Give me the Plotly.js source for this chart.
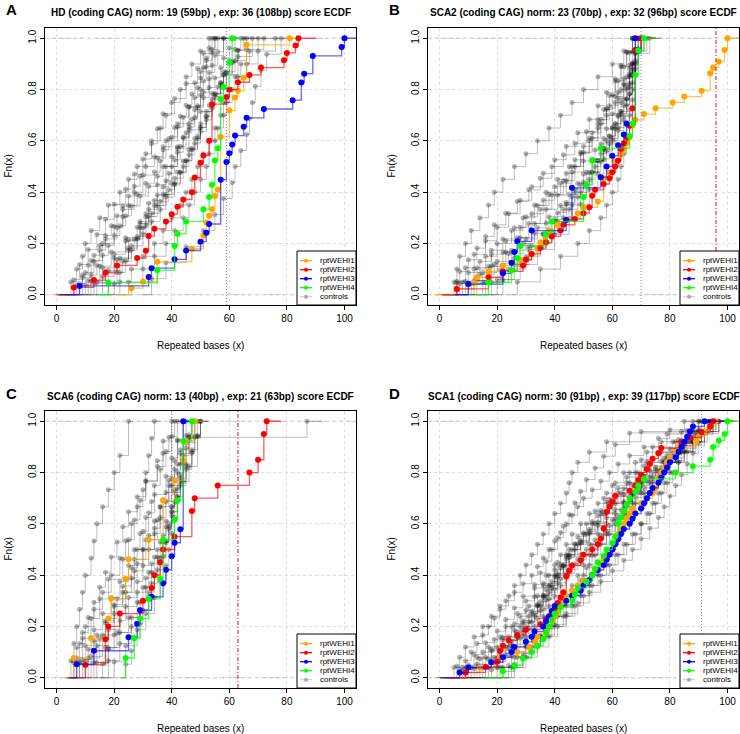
<!DOCTYPE html>
<html>
<head>
<meta charset="utf-8">
<script src="https://cdn.plot.ly/plotly-3.0.1.min.js"></script>
<style>
  html, body { margin: 0; padding: 0; background: #fff; }
  #ecdf { width: 740px; height: 734px; }
</style>
</head>
<body>
<div id="ecdf"></div>
<script>
// ECDF panels: 4 repeat loci, 4 samples + controls each

var panelLetters = ['A', 'B', 'C', 'D'];
var panelTitles = [
  'HD (coding CAG) norm: 19 (59bp) , exp: 36 (108bp) score ECDF',
  'SCA2 (coding CAG) norm: 23 (70bp) , exp: 32 (96bp) score ECDF',
  'SCA6 (coding CAG) norm: 13 (40bp) , exp: 21 (63bp) score ECDF',
  'SCA1 (coding CAG) norm: 30 (91bp) , exp: 39 (117bp) score ECDF'
];
var normBp = [59, 70, 40, 91];
var expBp = [108, 96, 63, 117];

var seriesNames = ['rptWEHI1', 'rptWEHI2', 'rptWEHI3', 'rptWEHI4'];
var seriesColors = ['#FFA500', '#FF0000', '#0000FF', '#00FF00'];
var seriesLines = ['rgba(255,165,0,0.65)', 'rgba(255,0,0,0.65)', 'rgba(0,0,255,0.6)', 'rgba(0,255,0,0.7)'];

var xTicks = [0, 20, 40, 60, 80, 100];
var yTicks = [0, 0.2, 0.4, 0.6, 0.8, 1.0];

// A - HD
var hdWEHI1 = [26,30,35,35,35,47,47,51,51,52,52,53,54,55,55,56,57,57,57,57,57,57,57,57,60,60,60,60,62,62,63,65,65,66,66,66,66,66,81];
var hdWEHI2 = [6,13,17,21,28,31,32,32,34,38,40,42,44,47,48,48,50,50,51,53,53,54,54,54,54,54,59,60,63,67,71,79,80,83,84];
var hdWEHI3 = [8,32,33,41,45,50,52,53,57,57,57,57,57,59,59,60,61,62,65,66,72,82,85,85,86,89,89,99,100];
var hdWEHI4 = [18,35,41,41,42,45,51,53,54,55,55,56,57,57,57,57,58,60,60,61,61];
var hdControls = [
  [5,7,9,10,12,15,18,22,25,28,31,33,36,38,40,43,45,47,50,53],
  [6,8,11,14,17,20,24,27,30,33,35,37,41,45,49,51,54],
  [8,10,13,15,17,21,23,25,28,31,34,36,37,39,41,43,45,47,48,50,52,54,56],
  [9,12,16,20,23,27,30,35,38,42,46,50,53,55,58],
  [10,12,14,16,18,20,22,24,26,29,32,35,37,40,42,44,46,48,49,51,53,55,57,58,60,62],
  [12,16,20,24,28,31,34,37,39,41,43,45,47,49,51,53,54,56,58],
  [14,18,22,26,30,33,36,38,41,43,45,47,49,50,52,54,56,58,61,63,65],
  [16,20,25,29,32,35,38,42,46,50,54,58,63,68],
  [18,21,23,25,27,29,31,34,37,40,42,44,46,48,50,52,53,55,57,59,62,66,72],
  [22,26,30,34,37,40,43,45,47,49,51,53,55,57,58,60,63,66,70,76],
  [7,9,11,13,15,17,19,21,23,25,27,29,31,34,37,40,42,44,46,48,49,50,51,52,53,55],
  [33,38,45,51,55,58,61,62,64,66,67,68,69,71,73,78],
  [11,15,19,24,29,32,35,38,40,42,44,46,48,50,51,52,54,55],
  [20,22,24,26,28,30,32,35,38,41,43,45,47,49,50,52,54,55,57,58,60,62,64],
  [13,17,21,25,28,31,33,36,39,41,44,46,48,50,52,54,55,57,59,61,63,66],
  [25,30,34,38,41,44,46,48,50,52,53,55,56,58,59,61,62,64,67,70]
];

// B - SCA2
var sca2WEHI1 = [6,12,13,17,22,28,32,34,35,37,38,41,45,48,50,55,57,57,57,57,59,61,61,63,64,65,66,67,67,68,71,75,81,85,91,94,94,94,95,97,99,99,100,100];
var sca2WEHI2 = [6,17,17,22,29,30,32,35,37,39,42,43,47,50,52,53,53,54,57,59,60,61,62,63,63,64,65,66,66,67,67,67,68,68,68,68,68,68,68,68,68,68,70,70];
var sca2WEHI3 = [10,22,25,26,27,32,44,46,46,46,56,58,60,62,64,65,68,68,68,68,68,68,68,68];
var sca2WEHI4 = [17,25,27,28,37,39,50,50,51,53,53,56,66,67,68,68,68,68,69,69,71];
var sca2Controls = [
  [5,6,7,9,11,14,17,19,22,26,30,34,38,42,46,50,55,60,64,67],
  [6,7,10,13,16,19,23,27,31,35,39,43,47,51,55,58,61,64,66,68,68,69],
  [6,9,12,16,20,24,28,32,36,40,44,48,52,55,58,61,63,65,67],
  [7,10,14,18,22,26,30,34,38,42,46,50,54,57,60,62,64,66,67,68,68,69,70],
  [8,12,16,20,25,29,33,37,41,45,49,52,55,58,61,63,65,67,68,70],
  [9,13,18,23,28,32,36,40,44,47,50,53,56,59,62,64,66,67,68],
  [11,15,20,25,30,34,38,42,45,48,51,54,57,60,62,64,65,66,67,67,68,68,70],
  [13,18,23,28,33,37,41,44,47,50,53,56,58,60,62,64,66,68],
  [15,21,26,31,36,40,43,46,49,52,55,57,59,61,63,65,66,67,68,69,69],
  [18,24,30,35,39,43,46,49,52,54,56,58,60,62,63,65,66,67,68,72],
  [22,28,34,40,45,49,52,55,57,59,61,63,65,66,67,68,73],
  [27,35,42,48,52,56,58,60,62,63,64,65,66,66,67,67,68,68,69,71],
  [10,14,19,24,29,33,37,41,44,47,50,53,56,58,60,62,64,66,67,68,68,68,69,69,70],
  [12,17,22,27,31,35,39,43,46,49,52,55,57,59,61,63,65,67],
  [16,22,27,32,37,41,45,48,51,53,55,57,59,61,63,64,65,66,67,68,69],
  [20,26,31,36,40,44,47,50,53,56,58,60,62,64,66,68,70]
];

// C - SCA6
var sca6WEHI1 = [6,12,18,19,24,25,32,37,37,41,44,45,48];
var sca6WEHI2 = [10,17,17,18,22,30,33,34,36,37,41,47,47,48,56,67,70,72,72,73];
var sca6WEHI3 = [7,13,25,28,29,33,37,38,40,41,43,44,44,44,44,44,44,44,44];
var sca6WEHI4 = [24,27,29,32,36,37,37,41,42,44,44,44,47];
var sca6Controls = [
  [5,6,7,8,9,10,12,13,14,16,18,20,22,25,25],
  [6,7,9,11,13,15,17,19,21,23,25,28,31,35,38,40,42],
  [7,9,12,15,18,23,25,27,29,31,35,37,40],
  [8,11,14,17,20,23,26,28,30,32,34,36,38,40,42,43,45,47],
  [9,13,17,20,23,26,28,30,32,34,38,40,42,44],
  [10,14,18,22,25,28,30,32,34,36,38,40,41,43,46,48],
  [12,16,20,24,27,30,34,36,39,43,45,48],
  [14,18,22,26,29,31,33,35,37,39,40,42,44,46,49,49,50],
  [16,18,20,22,24,28,31,33,35,37,38,40,41,43,45,47,49,50],
  [20,24,28,31,34,36,38,39,40,41,42,43,45,47,48,87],
  [6,8,10,13,16,19,22,24,26,28,30,31,32,33,34],
  [24,26,27,29,30,32,33,35,37,38,39,40,41,42,43,44,45,46,47],
  [8,10,13,16,19,22,25,27,29,31,33,34,36,37,39,41],
  [11,15,18,21,24,27,31,35,37,39,41,42,45],
  [13,17,21,25,28,30,32,34,36,38,40,42,43,45,47,48,49],
  [18,22,26,29,32,34,36,38,39,40,41,42,44,46,50]
];

// D - SCA1
var sca1WEHI1 = [9,14,19,21,27,31,33,34,37,38,39,40,41,42,43,44,46,48,50,53,54,56,57,58,60,61,62,62,63,64,65,66,67,70,72,74,75,76,76,77,78,79,80,82,83,89,90,92,94,96];
var sca1WEHI2 = [9,16,20,21,21,22,24,27,30,35,37,39,40,41,42,43,44,44,44,45,46,49,50,53,55,56,57,57,58,58,58,59,60,61,66,68,69,70,72,73,74,76,77,84,87,91,94,95];
var sca1WEHI3 = [7,10,18,22,25,26,30,32,33,36,37,38,39,40,44,46,49,50,52,53,55,57,58,59,60,61,62,63,64,66,67,68,70,71,72,73,74,76,77,78,79,80,82,83,84,85,86,87,88,92];
var sca1WEHI4 = [22,26,29,32,34,36,37,38,39,40,42,46,47,48,51,53,54,55,57,58,60,61,62,62,63,64,65,66,68,69,71,82,88,94,95,95,97,99,100,100];
var sca1Controls = [
  [5,7,9,12,15,18,21,24,26,28,30,32,34,36,38,40,42,44,45,46,48,52,58,70,85],
  [6,12,16,20,23,26,29,33,35,37,39,41,43,45,47,49,51,54,57,61,66,88],
  [7,9,11,13,15,17,19,21,23,26,29,32,34,36,38,40,42,44,46,48,50,53,56,59,62,66,71,76,80,90],
  [8,13,17,21,25,28,31,34,36,38,40,42,44,46,49,52,55,58,61,64,68,72,77,84,91],
  [10,15,19,23,27,30,33,37,41,45,48,51,54,57,60,66,70,74,79,92],
  [12,17,21,25,27,29,32,34,36,38,40,42,44,46,49,52,55,58,61,64,67,71,75,78,80,83,86,93],
  [14,19,23,27,30,33,35,37,39,41,43,45,48,51,54,57,60,63,66,69,73,77,82,88,94],
  [16,21,25,29,32,35,37,39,41,43,45,47,50,53,56,59,62,65,71,79,84,89,95],
  [18,20,23,25,27,29,31,33,34,36,37,39,41,43,45,47,49,52,55,58,61,64,67,70,73,75,77,81,85,88,90,96],
  [21,26,30,34,37,40,42,44,46,48,50,52,55,58,61,64,67,70,73,76,79,83,87,91,97],
  [24,29,33,37,40,43,47,49,51,53,55,58,61,64,67,70,73,79,85,92,97],
  [9,14,18,22,26,29,32,35,38,41,44,47,50,53,56,59,62,65,68,71,74,77,80,82,84,87,90],
  [11,16,20,24,28,31,34,36,38,40,42,44,47,50,53,56,59,62,65,68,72,76,81,87,93],
  [13,18,22,26,30,33,36,40,44,49,52,55,58,64,70,78,83,89,95],
  [15,20,24,28,31,34,36,38,40,42,45,48,51,54,57,60,63,66,69,72,76,80,85,88,90,94],
  [17,22,26,30,33,36,38,40,42,44,46,49,52,55,58,61,64,67,70,74,78,82,86,91,96],
  [26,30,34,38,41,44,47,50,53,56,59,62,65,68,70,72,74,76,78,80,83,86,89,92,95],
  [22,27,31,35,39,43,46,49,52,55,58,61,64,67,70,73,75,77,79,81,83,85,88,91,94],
  [25,29,32,35,38,41,44,46,48,50,52,54,56,59,62,65,68,71,74,77,80,84,88,93,97],
  [20,25,30,35,40,44,48,52,56,60,64,67,70,73,76,78,80,82,84,86,88,90,92,94]
];

var panelSeries = [
  [hdWEHI1, hdWEHI2, hdWEHI3, hdWEHI4],
  [sca2WEHI1, sca2WEHI2, sca2WEHI3, sca2WEHI4],
  [sca6WEHI1, sca6WEHI2, sca6WEHI3, sca6WEHI4],
  [sca1WEHI1, sca1WEHI2, sca1WEHI3, sca1WEHI4]
];
var panelControls = [hdControls, sca2Controls, sca6Controls, sca1Controls];

// plot boxes in pixels [left, top, right, bottom]
var W = 740, H = 734;
var boxes = [[45, 28, 356, 305], [428, 28, 739, 305], [45, 411, 356, 688], [428, 411, 739, 688]];
var FONT = 'Liberation Sans, Arial, Helvetica, sans-serif';

function px(x) { return x / W; }
function py(y) { return 1 - y / H; }

// empirical CDF: jump positions and heights, step tails like plot.stepfun
function ecdf(vals) {
  var s = vals.slice().sort(function (a, b) { return a - b; });
  var xs = [], ys = [];
  for (var i = 0; i < s.length; i++) {
    if (i === s.length - 1 || s[i + 1] !== s[i]) {
      xs.push(s[i]);
      ys.push((i + 1) / s.length);
    }
  }
  var dr = 0.08 * (xs[xs.length - 1] - xs[0]);
  return {
    x: [xs[0] - dr].concat(xs, [xs[xs.length - 1] + dr]),
    y: [0].concat(ys, [1]),
    kx: xs, ky: ys
  };
}

var data = [];
var shapes = [];
var annotations = [];
var layout = {
  width: W, height: H,
  margin: {l: 0, r: 0, t: 0, b: 0},
  paper_bgcolor: '#fff', plot_bgcolor: '#fff',
  showlegend: false,
  font: {family: FONT, color: '#000'}
};

boxes.forEach(function (b, p) {
  var n = p === 0 ? '' : String(p + 1);
  var xa = 'x' + n, ya = 'y' + n;

  layout['xaxis' + n] = {
    domain: [px(b[0]), px(b[2])], anchor: ya,
    range: [-4, 104], tickvals: xTicks,
    ticks: 'outside', ticklen: 4, tickcolor: '#000',
    showline: true, mirror: true, linecolor: '#000', linewidth: 1,
    showgrid: true, gridcolor: '#dcdcdc', griddash: 'dot', zeroline: false,
    tickfont: {size: 10, family: FONT}
  };
  layout['yaxis' + n] = {
    domain: [py(b[3]), py(b[1])], anchor: xa,
    range: [-0.04, 1.04], tickvals: yTicks, tickformat: '.1f',
    tickangle: -90,
    ticks: 'outside', ticklen: 4, tickcolor: '#000',
    showline: true, mirror: true, linecolor: '#000', linewidth: 1,
    showgrid: true, gridcolor: '#dcdcdc', griddash: 'dot', zeroline: false,
    tickfont: {size: 10, family: FONT}
  };

  // controls first
  panelControls[p].forEach(function (c) {
    var e = ecdf(c);
    data.push({
      x: e.x, y: e.y, xaxis: xa, yaxis: ya,
      type: 'scatter', mode: 'lines',
      line: {shape: 'hv', color: 'rgba(0,0,0,0.25)', width: 1},
      hoverinfo: 'skip'
    });
    data.push({
      x: e.kx, y: e.ky, xaxis: xa, yaxis: ya,
      type: 'scatter', mode: 'markers',
      marker: {size: 5, color: 'rgba(0,0,0,0.3)'},
      hoverinfo: 'skip'
    });
  });
  panelSeries[p].forEach(function (s, k) {
    var e = ecdf(s);
    data.push({
      x: e.x, y: e.y, xaxis: xa, yaxis: ya,
      type: 'scatter', mode: 'lines',
      line: {shape: 'hv', color: seriesLines[k], width: 1.3},
      hoverinfo: 'skip', name: seriesNames[k]
    });
    data.push({
      x: e.kx, y: e.ky, xaxis: xa, yaxis: ya,
      type: 'scatter', mode: 'markers',
      marker: {size: 6, color: seriesColors[k]},
      hoverinfo: 'skip', name: seriesNames[k]
    });
  });

  // h lines at 0 and 1
  [0, 1].forEach(function (v) {
    shapes.push({type: 'line', xref: xa + ' domain', yref: ya, x0: 0, x1: 1, y0: v, y1: v,
      line: {color: '#b3b3b3', width: 1, dash: '4px,3px'}, layer: 'below'});
  });
  // normal / expanded length markers
  shapes.push({type: 'line', xref: xa, yref: ya + ' domain', x0: normBp[p], x1: normBp[p], y0: 0, y1: 1,
    line: {color: 'rgba(80,80,255,0.75)', width: 1, dash: '1px,2px'}});
  if (expBp[p] <= 104) {
    shapes.push({type: 'line', xref: xa, yref: ya + ' domain', x0: expBp[p], x1: expBp[p], y0: 0, y1: 1,
      line: {color: '#FF0000', width: 1, dash: '4px,2px,1px,2px'}});
  }

  // titles
  annotations.push({text: '<b>' + panelTitles[p] + '</b>', xref: 'paper', yref: 'paper',
    x: px((b[0] + b[2]) / 2), y: py(b[1] - 15), showarrow: false,
    font: {size: 10, family: FONT}, xanchor: 'center', yanchor: 'middle'});
  annotations.push({text: '<b>' + panelLetters[p] + '</b>', xref: 'paper', yref: 'paper',
    x: px(b[0] - 34), y: py(b[1] - 18), showarrow: false,
    font: {size: 15, family: FONT}, xanchor: 'center', yanchor: 'middle'});
  annotations.push({text: 'Repeated bases (x)', xref: 'paper', yref: 'paper',
    x: px((b[0] + b[2]) / 2), y: py(b[3] + 40), showarrow: false,
    font: {size: 10, family: FONT}, xanchor: 'center', yanchor: 'middle'});
  annotations.push({text: 'Fn(x)', xref: 'paper', yref: 'paper', textangle: -90,
    x: px(b[0] - 37), y: py((b[1] + b[3]) / 2), showarrow: false,
    font: {size: 10, family: FONT}, xanchor: 'center', yanchor: 'middle'});

  // legend box, bottom right
  var lx = b[2] - 59, ly = b[3] - 54;
  shapes.push({type: 'rect', xref: 'paper', yref: 'paper',
    x0: px(lx), x1: px(b[2]), y0: py(b[3]), y1: py(ly),
    fillcolor: '#fff', line: {color: '#000', width: 1}, layer: 'above'});
  var legNames = seriesNames.concat(['controls']);
  var legLine = seriesColors.concat(['#cfcfcf']);
  var legDot = seriesColors.concat(['#a8a8a8']);
  legNames.forEach(function (nm, i) {
    var yy = ly + 9.7 + 9 * i;
    shapes.push({type: 'line', xref: 'paper', yref: 'paper',
      x0: px(lx + 3), x1: px(lx + 15), y0: py(yy), y1: py(yy),
      line: {color: legLine[i], width: 1.3}, layer: 'above'});
    shapes.push({type: 'circle', xref: 'paper', yref: 'paper',
      x0: px(lx + 9 - 2), x1: px(lx + 9 + 2), y0: py(yy + 2), y1: py(yy - 2),
      fillcolor: legDot[i], line: {color: legDot[i], width: 0}, layer: 'above'});
    annotations.push({text: nm, xref: 'paper', yref: 'paper',
      x: px(lx + 21), y: py(yy), showarrow: false, xanchor: 'left', yanchor: 'middle',
      font: {size: 8, family: FONT}});
  });
});

layout.shapes = shapes;
layout.annotations = annotations;

Plotly.newPlot('ecdf', data, layout, {staticPlot: true});
</script>
</body>
</html>
